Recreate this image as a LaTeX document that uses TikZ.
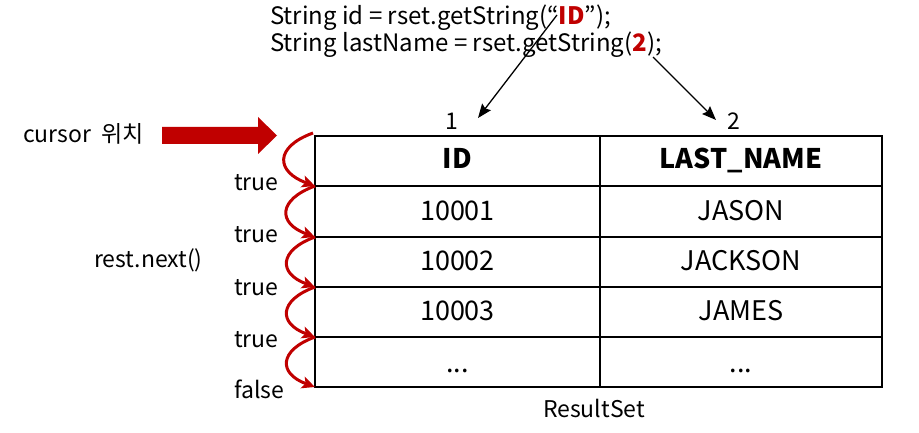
\documentclass[tikz,border=0pt]{standalone}
\usepackage{fontspec}
\setmainfont{Noto Sans CJK KR}
\usetikzlibrary{arrows.meta}
\definecolor{dred}{HTML}{C00000}
\tikzset{
  code/.style={anchor=base west, inner sep=0pt, font=\fontsize{24}{26}\selectfont},
  lbl/.style={anchor=base west, inner sep=0pt, font=\fontsize{23}{26}\selectfont},
  cell/.style={anchor=base, inner sep=0pt, font=\fontsize{27}{30}\selectfont},
  hcell/.style={cell, font=\fontsize{27}{30}\selectfont\bfseries},
  grid/.style={line width=2.4pt, black},
  loop/.style={dred, line width=3pt, -{Stealth[length=13pt,width=12pt,inset=3pt]}},
  ptr/.style={black, line width=1.3pt, -{Stealth[length=14pt,width=11pt,inset=2pt]}}
}
\begin{document}
\begin{tikzpicture}[x=1pt,y=-1pt]
\useasboundingbox (0,0) rectangle (919,433);
% table coordinates
\coordinate (r0) at (315,136);
\coordinate (r1) at (315,186);
\coordinate (r2) at (315,237);
\coordinate (r3) at (315,287);
\coordinate (r4) at (315,337);
\coordinate (r5) at (315,387);
% table grid
\draw[grid] (315,136) rectangle (882,387);
\foreach \y in {186,237,287,337} \draw[grid] (315,\y) -- (882,\y);
\draw[grid] (600,136) -- (600,387);
% cells
\node[hcell] (h1) at (457.5,169) {ID};
\node[hcell] (h2) at (741,169) {LAST\_NAME};
\node[cell] (a1) at (457.5,220) {10001};
\node[cell] (b1) at (741,220) {JASON};
\node[cell] (a2) at (457.5,270) {10002};
\node[cell] (b2) at (741,270) {JACKSON};
\node[cell] (a3) at (457.5,320) {10003};
\node[cell] (b3) at (741,320) {JAMES};
\node[cell] (a4) at (457.5,372) {...};
\node[cell] (b4) at (741,372) {...};
\node[anchor=base, inner sep=0pt, font=\fontsize{23}{26}\selectfont] (rs) at (594,417) {ResultSet};
% top code
\node[code] (l1) at (270,25) {String id = rset.getString(“\textcolor{dred}{\bfseries ID}”);};
\node[code] (l2) at (270,52) {String lastName = rset.getString(\textcolor{dred}{\bfseries 2});};
\node[anchor=base, inner sep=0pt, font=\fontsize{23}{26}\selectfont] (n1) at (452,130) {1};
\node[anchor=base, inner sep=0pt, font=\fontsize{23}{26}\selectfont] (n2) at (734,130) {2};
\coordinate (s1) at (557,15);
\coordinate (t1) at (478,118);
\coordinate (s2) at (653,57);
\coordinate (t2) at (716,120);
\draw[ptr] (s1) -- (t1);
\draw[ptr] (s2) -- (t2);
% cursor arrow
\node[lbl] (cur) at (23,143) {cursor\hspace{0.2em} 위치};
\fill[dred] (162,127) -- (258,127) -- (258,117) -- (277,135.5) -- (258,154) -- (258,144) -- (162,144) -- cycle;
% loops
\coordinate (c0) at (313,133);
\draw[loop] (c0) to[out=200,in=160,looseness=2.0] (r1);
\draw[loop] (r1) to[out=200,in=160,looseness=2.0] (r2);
\draw[loop] (r2) to[out=200,in=160,looseness=2.0] (r3);
\draw[loop] (r3) to[out=200,in=160,looseness=2.0] (r4);
\draw[loop] (r4) to[out=200,in=160,looseness=2.0] (r5);
% labels
\node[lbl] (t1l) at (234,191) {true};
\node[lbl] (t2l) at (234,243) {true};
\node[lbl] (t3l) at (234,295) {true};
\node[lbl] (t4l) at (234,347) {true};
\node[lbl] (fl) at (234,398) {false};
\node[lbl] (rn) at (94,267) {rest.next()};
\end{tikzpicture}
\end{document}
